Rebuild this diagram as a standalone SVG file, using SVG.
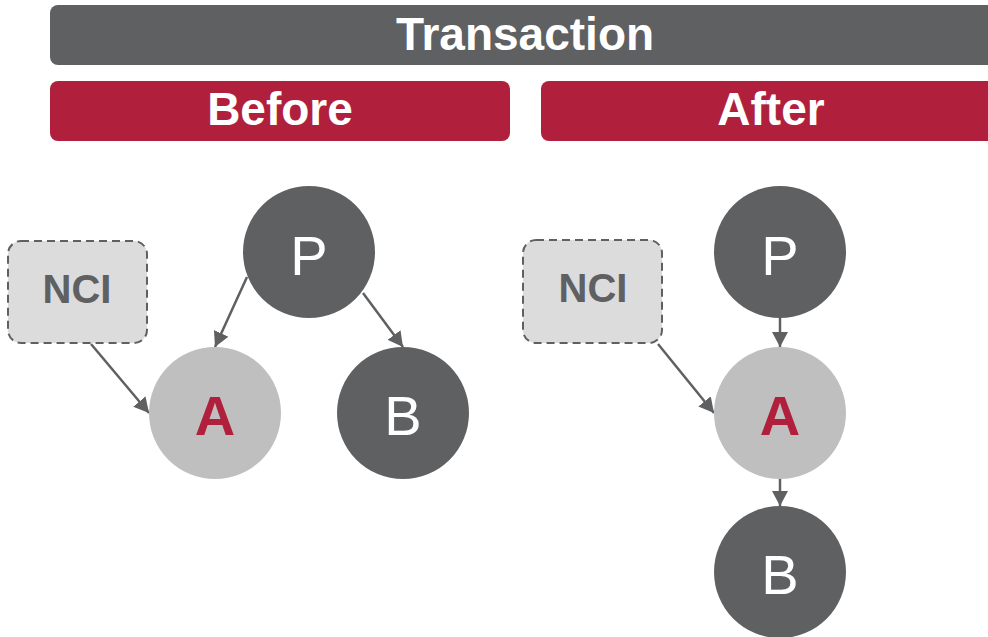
<svg xmlns="http://www.w3.org/2000/svg" width="988" height="637" viewBox="0 0 988 637">
<style>
.hdr{font-family:"Liberation Sans",Arial,sans-serif;font-weight:bold;fill:#ffffff;text-anchor:middle}
.dark{fill:#5f6062}
.light{fill:#bfbfbf}
.nci{fill:#dcdcdc;stroke:#5f6062;stroke-width:2;stroke-dasharray:8 5}
.nciT{font-family:"Liberation Sans",Arial,sans-serif;font-weight:bold;font-size:40px;fill:#5f6062;text-anchor:middle}
.wT{font-family:"Liberation Sans",Arial,sans-serif;font-size:56px;fill:#ffffff;text-anchor:middle}
.aT{font-family:"Liberation Sans",Arial,sans-serif;font-weight:bold;font-size:56px;fill:#b01f3b;text-anchor:middle}
.edge{stroke:#5f6062;stroke-width:2.5;fill:none;marker-end:url(#ah)}
</style>
<defs>
<marker id="ah" viewBox="0 0 15 16" refX="15" refY="8" markerWidth="15" markerHeight="16" orient="auto" markerUnits="userSpaceOnUse">
<path d="M0,0 L15,8 L0,16 Z" fill="#5f6062"/>
</marker>
</defs>
<rect width="988" height="637" fill="#ffffff"/>
<g id="transaction">
<rect x="50" y="5" width="960" height="60" rx="8" class="dark"/>
<text x="525" y="50" class="hdr" font-size="46">Transaction</text>
</g>
<g id="before">
<rect x="50" y="81" width="460" height="60" rx="8" fill="#b01f3b"/>
<text x="280" y="125" class="hdr" font-size="46">Before</text>
</g>
<g id="after">
<rect x="541" y="81" width="470" height="60" rx="8" fill="#b01f3b"/>
<text x="771" y="125" class="hdr" font-size="46">After</text>
</g>
<g id="connectors">
<line x1="247" y1="277" x2="215" y2="347" class="edge"/>
<line x1="363" y1="293" x2="403" y2="347" class="edge"/>
<line x1="91" y1="344" x2="149" y2="413" class="edge"/>
<line x1="780" y1="318" x2="780" y2="347" class="edge"/>
<line x1="780" y1="479" x2="780" y2="506" class="edge"/>
<line x1="658" y1="344" x2="714" y2="413" class="edge"/>
</g>
<g id="before-nci">
<rect x="8" y="241" width="139" height="102" rx="13" class="nci"/>
<text x="77" y="303" class="nciT">NCI</text>
</g>
<g id="before-p">
<circle cx="309" cy="252" r="66" class="dark"/>
<text x="309" y="275" class="wT">P</text>
</g>
<g id="before-a">
<circle cx="215" cy="413" r="66" class="light"/>
<text x="215" y="435" class="aT">A</text>
</g>
<g id="before-b">
<circle cx="403" cy="413" r="66" class="dark"/>
<text x="403" y="435" class="wT">B</text>
</g>
<g id="after-nci">
<rect x="523" y="240" width="139" height="103" rx="13" class="nci"/>
<text x="593" y="302" class="nciT">NCI</text>
</g>
<g id="after-p">
<circle cx="780" cy="252" r="66" class="dark"/>
<text x="780" y="275" class="wT">P</text>
</g>
<g id="after-a">
<circle cx="780" cy="413" r="66" class="light"/>
<text x="780" y="435" class="aT">A</text>
</g>
<g id="after-b">
<circle cx="780" cy="572" r="66" class="dark"/>
<text x="780" y="594" class="wT">B</text>
</g>
</svg>
